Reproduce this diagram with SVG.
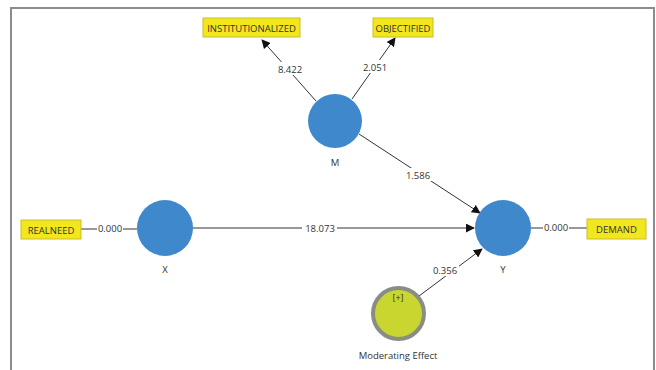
<svg xmlns="http://www.w3.org/2000/svg" width="656" height="370" viewBox="0 0 656 370">
<defs>
<style>
text{font-family:"Open Sans","Liberation Sans",sans-serif;font-size:9.5px;fill:#333;text-anchor:middle;dominant-baseline:central}
.box{fill:#f2e61c;stroke:#c9bf2a;stroke-width:1}
.lv{fill:#3f88cc}
.ln{stroke:#333;stroke-width:1;fill:none}
.lb{fill:#fff}
</style>
<marker id="ah" viewBox="0 0 10 10" refX="9" refY="5" markerWidth="9" markerHeight="9" markerUnits="userSpaceOnUse" orient="auto">
<path d="M0,0 L10,5 L0,10 z" fill="#111"/>
</marker>
</defs>
<rect x="0" y="0" width="656" height="370" fill="#fff"/>
<path d="M11,372 V8 H654 V372" fill="none" stroke="#8c8c8c" stroke-width="2"/>
<g id="connectors">
<line class="ln" x1="316" y1="101" x2="262" y2="40" marker-end="url(#ah)"/>
<line class="ln" x1="352" y1="99" x2="395" y2="38" marker-end="url(#ah)"/>
<line class="ln" x1="359" y1="134" x2="480" y2="213" marker-end="url(#ah)"/>
<line class="ln" x1="193" y1="228" x2="474" y2="228" marker-end="url(#ah)"/>
<line class="ln" x1="419" y1="296" x2="482" y2="249" marker-end="url(#ah)"/>
<line class="ln" x1="81" y1="229" x2="137" y2="229"/>
<line class="ln" x1="531" y1="228" x2="587" y2="228"/>
<rect class="lb" x="276" y="62" width="28" height="13"/><text x="290" y="69">8.422</text>
<rect class="lb" x="361" y="60" width="28" height="13"/><text x="375" y="67">2.051</text>
<rect class="lb" x="404" y="168" width="28" height="13"/><text x="418" y="175">1.586</text>
<rect class="lb" x="302" y="222" width="35" height="13"/><text x="320" y="228">18.073</text>
<rect class="lb" x="431" y="263" width="28" height="13"/><text x="445" y="270">0.356</text>
<rect class="lb" x="97" y="222" width="26" height="13"/><text x="110" y="228">0.000</text>
<rect class="lb" x="543" y="221" width="26" height="13"/><text x="556" y="227">0.000</text>
</g>
<g id="M"><circle class="lv" cx="335" cy="121" r="27"/><text x="335" y="162">M</text></g>
<g id="X"><circle class="lv" cx="165" cy="228" r="28"/><text x="165" y="269">X</text></g>
<g id="Y"><circle class="lv" cx="503" cy="228" r="28"/><text x="503" y="269">Y</text></g>
<g id="ModeratingEffect"><circle cx="398.5" cy="313.5" r="25.5" fill="#c9d62f" stroke="#8a8d84" stroke-width="4"/><text x="398" y="297" style="font-size:9px">[+]</text><text x="398" y="355">Moderating Effect</text></g>
<g id="INSTITUTIONALIZED"><rect class="box" x="203" y="18" width="97" height="19"/><text x="251.5" y="28">INSTITUTIONALIZED</text></g>
<g id="OBJECTIFIED"><rect class="box" x="373" y="18" width="60" height="19"/><text x="403" y="28">OBJECTIFIED</text></g>
<g id="REALNEED"><rect class="box" x="21" y="220" width="60" height="19"/><text x="51" y="230">REALNEED</text></g>
<g id="DEMAND"><rect class="box" x="587" y="219" width="59" height="20"/><text x="616.5" y="229">DEMAND</text></g>
</svg>
